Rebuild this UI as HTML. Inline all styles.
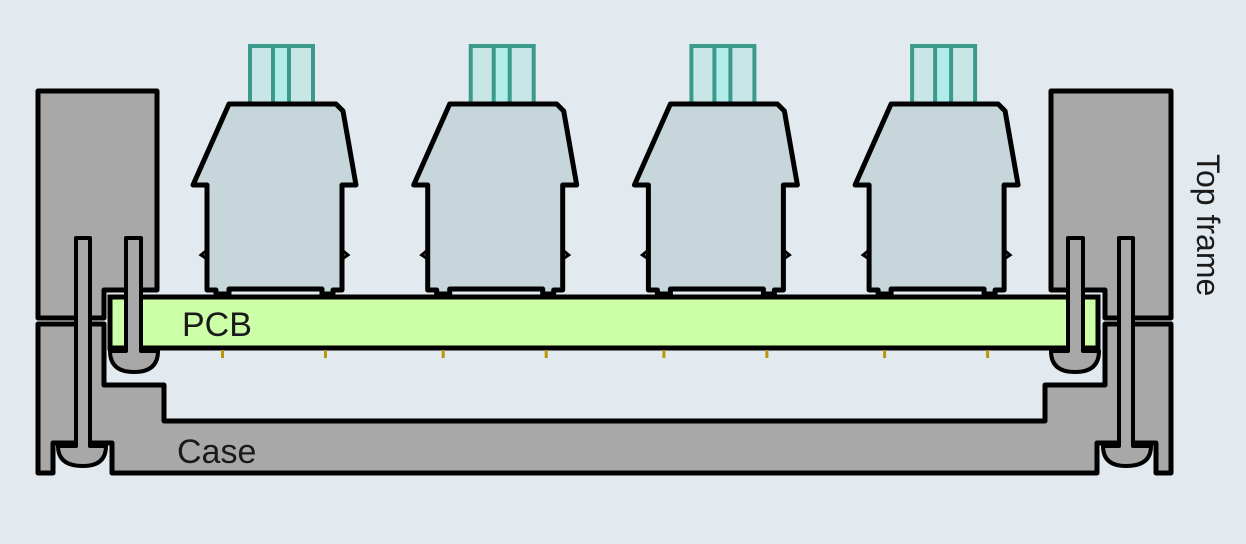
<!DOCTYPE html>
<html><head><style>
html,body{margin:0;padding:0;background:#e2eaf0;}
svg{display:block;}
text{font-family:"Liberation Sans",sans-serif;fill:#1a1a1a;}
</style></head><body>
<svg width="1246" height="544" viewBox="0 0 1246 544" xmlns="http://www.w3.org/2000/svg">
<defs>
<g id="sw">
  <rect x="250" y="46" width="63" height="58" fill="#c9e6e6" stroke="#3a9a8c" stroke-width="4"/>
  <rect x="273" y="46" width="16" height="58" fill="#b2ece9" stroke="#3a9a8c" stroke-width="4"/>
  <path d="M229,104 H336 L343,111 L356,185 H342 V290 H333 V294 H322 V289 H229 V294 H216 V290 H207 V185 H193 Z" fill="#c6d6da" stroke="#000" stroke-width="5" stroke-linejoin="round"/>
  <path d="M207,250 L201,255 L207,259 M342,250 L348,255 L342,259" fill="none" stroke="#000" stroke-width="3"/>
  <rect x="221" y="350" width="3" height="8" fill="#b8960c"/>
  <rect x="324" y="350" width="3" height="8" fill="#b8960c"/>
</g>
</defs>
<path d="M38,91 H157 V290 H104 V318 H38 Z" fill="#a8a8a8" stroke="#000" stroke-width="5" stroke-linejoin="round"/>
<path d="M1051,91 H1171 V318 H1105 V290 H1051 Z" fill="#a8a8a8" stroke="#000" stroke-width="5" stroke-linejoin="round"/>
<path d="M38,324 H104 V385 H164 V421 H1045 V385 H1105 V324 H1171 V473 H1156 V443 H1097 V473 H112 V443 H53 V473 H38 Z" fill="#a8a8a8" stroke="#000" stroke-width="5" stroke-linejoin="round"/>
<rect x="110" y="297" width="988" height="51" fill="#ccffa8" stroke="#000" stroke-width="5"/>
<use href="#sw"/>
<use href="#sw" x="220.7"/>
<use href="#sw" x="441.4"/>
<use href="#sw" x="662.1"/>
<g fill="#a8a8a8" stroke="#000" stroke-width="4" stroke-linejoin="round">
  <path d="M76,238 H90 V446 H106 Q106,466 83,466 Q58,466 58,446 H76 Z"/>
  <path d="M126,238 H141 V351 H158 Q158,372 134,372 Q110,372 110,351 H126 Z"/>
  <path d="M1119,238 H1133 V446 H1151 Q1151,466 1126,466 Q1103,466 1103,446 H1119 Z"/>
  <path d="M1068,238 H1083 V351 H1099 Q1099,372 1075,372 Q1051,372 1051,351 H1068 Z"/>
</g>
<text x="182" y="336" font-size="34">PCB</text>
<text x="177" y="463" font-size="34">Case</text>
<text transform="translate(1197,154) rotate(90)" font-size="32">Top frame</text>
</svg>
</body></html>
